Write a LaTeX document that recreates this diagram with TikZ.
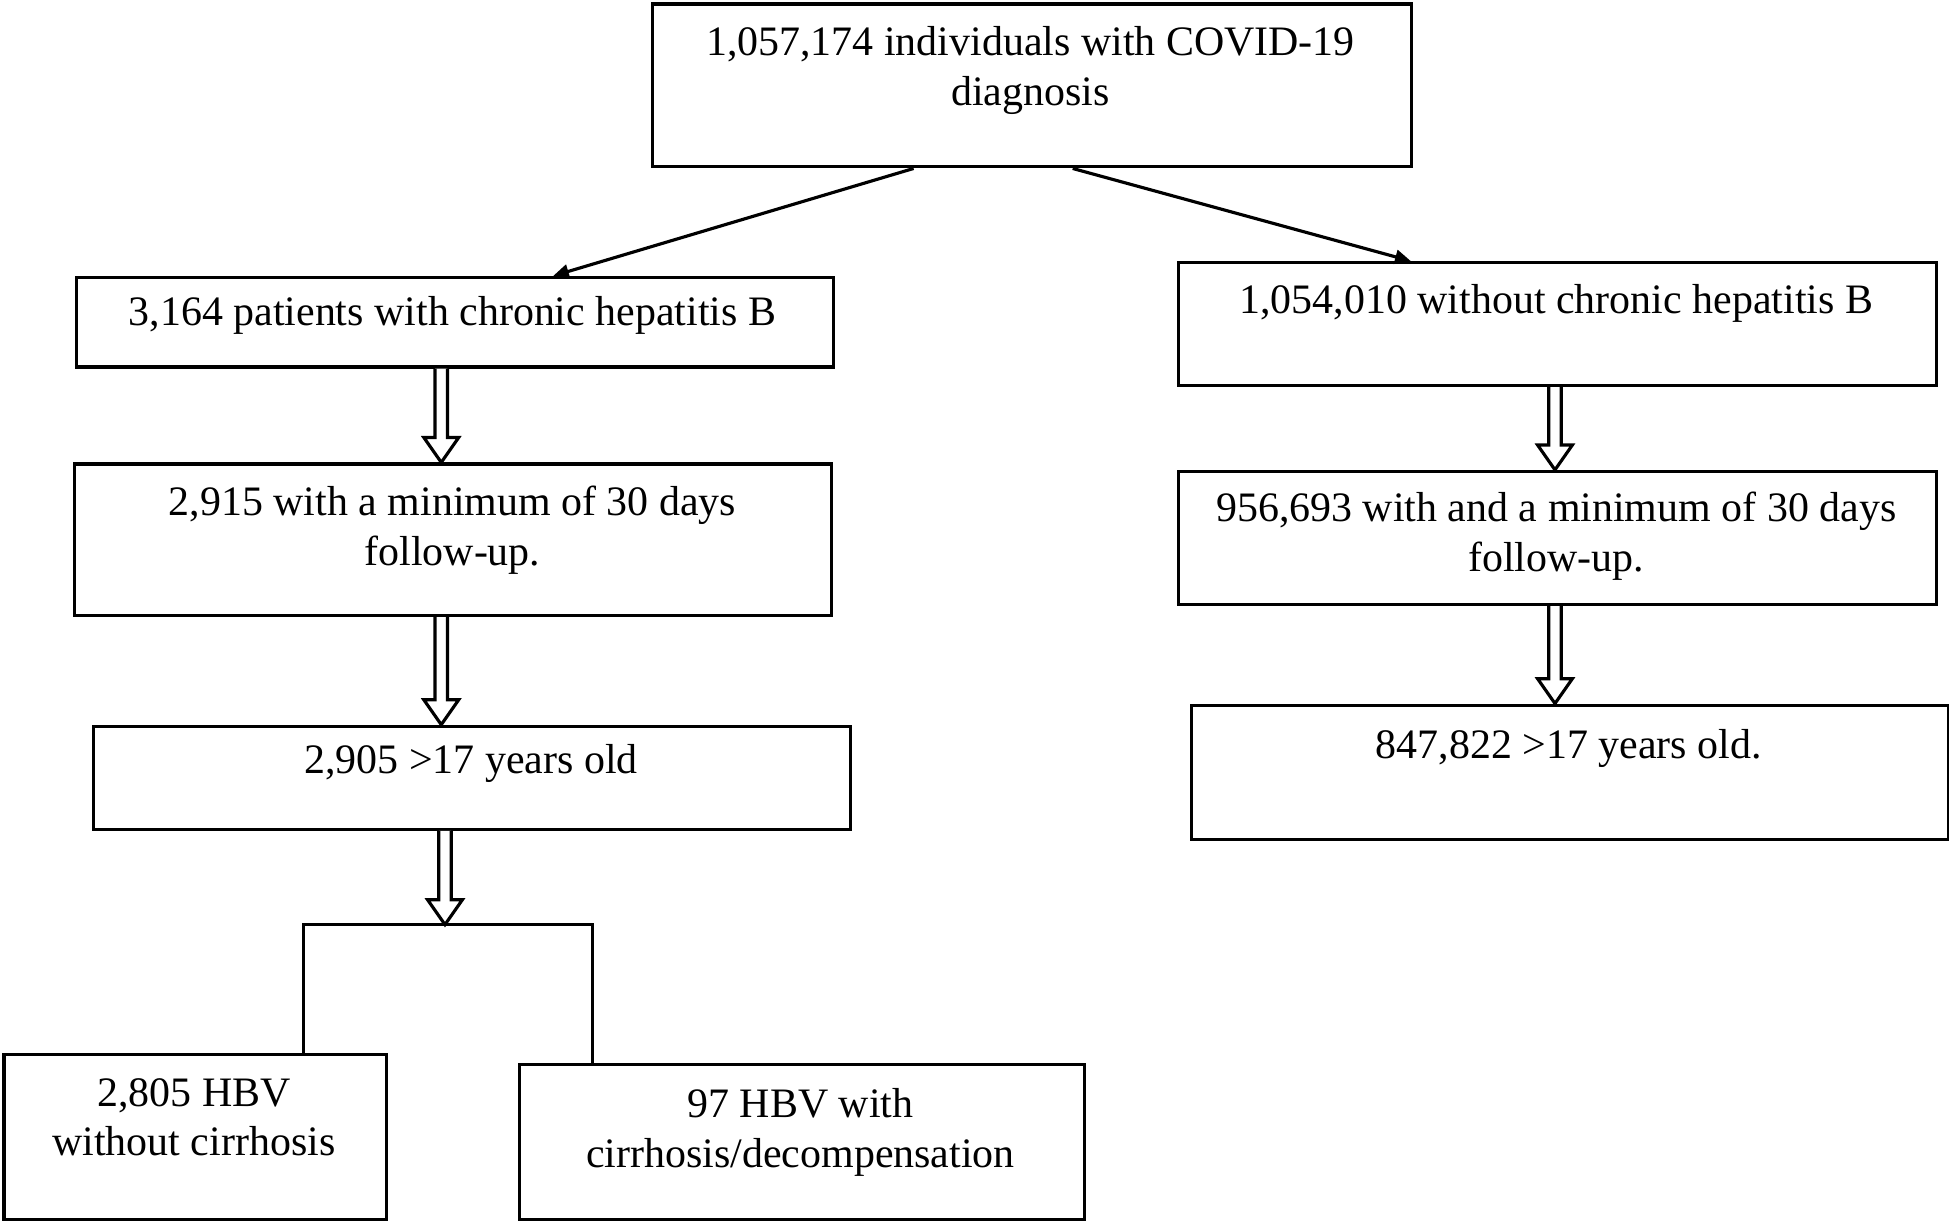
\documentclass[tikz,border=0pt]{standalone}
\usepackage{fontspec}
\setmainfont{Liberation Serif}
\usetikzlibrary{calc,arrows.meta}
\newcommand\dar[3]{%
  \path (#2.south -| #1) coordinate (s) (#3.north -| #1) coordinate (e);
  \draw[lw,fill=white] ($(s)+(-5,0)$) -- ($(e)+(-5,-20)$) -- ($(e)+(-14,-20)$) -- (e) -- ($(e)+(14,-20)$) -- ($(e)+(5,-20)$) -- ($(s)+(5,0)$);}
\begin{document}
\begin{tikzpicture}[x=0.05cm,y=-0.05cm,
  lw/.style={line width=3.6pt,line join=miter},
  box/.style={lw,draw,inner sep=0pt},
  txt/.style={font=\fontsize{48}{57}\selectfont,align=center,anchor=base}]
\useasboundingbox (0,0) rectangle (1568,982);
\newcommand\bx[5]{\node[box,minimum width={(#4-#2)*0.05cm},minimum height={(#5-#3)*0.05cm},anchor=north west] (#1) at (#2,#3) {};}
\bx{T}{524}{2}{1134}{133}
\bx{L1}{60}{222}{669}{294}
\bx{R1}{947}{210}{1557}{309}
\bx{L2}{59}{372}{668}{494}
\bx{R2}{947}{378}{1557}{485}
\bx{L3}{74}{583}{683}{666}
\bx{R3}{957}{566}{1566}{674}
\bx{B1}{2}{847}{310}{980}
\bx{B2}{417}{855}{871}{980}
\node[txt] at (829,85) {1,057,174 individuals with COVID-19\\diagnosis};
\node[txt] at (364,262) {3,164 patients with chronic hepatitis B};
\node[txt] at (1252,252) {1,054,010 without chronic hepatitis B};
\node[txt] at (364,455) {2,915 with a minimum of 30 days\\follow-up.};
\node[txt] at (1252,460) {956,693 with and a minimum of 30 days\\follow-up.};
\node[txt] at (379,622) {2,905 >17 years old};
\node[txt] at (1262,610) {847,822 >17 years old.};
\node[txt] at (156,930) {2,805 HBV\\without cirrhosis};
\node[txt] at (644,939) {97 HBV with\\cirrhosis/decompensation};
\coordinate (ta) at (735,0); \coordinate (tb) at (863,0);
\coordinate (la) at (445,0); \coordinate (rb) at (1135,0);
\draw[lw,-{Triangle[length=18pt,width=16pt]}] (T.south -| ta) -- (L1.north -| la);
\draw[lw,-{Triangle[length=18pt,width=16pt]}] (T.south -| tb) -- (R1.north -| rb);
\coordinate (xl) at (355,0); \coordinate (xr) at (1251,0); \coordinate (xb) at (358,0);
\dar{xl}{L1}{L2}
\dar{xl}{L2}{L3}
\dar{xr}{R1}{R2}
\dar{xr}{R2}{R3}
\coordinate (bk) at (358,744);
\node[inner sep=0pt,minimum size=0pt] (BK) at (bk) {};
\dar{xb}{L3}{BK}
\draw[lw] (B1.north -| 244,0) |- (bk) -| (B2.north -| 477,0);
\end{tikzpicture}
\end{document}
